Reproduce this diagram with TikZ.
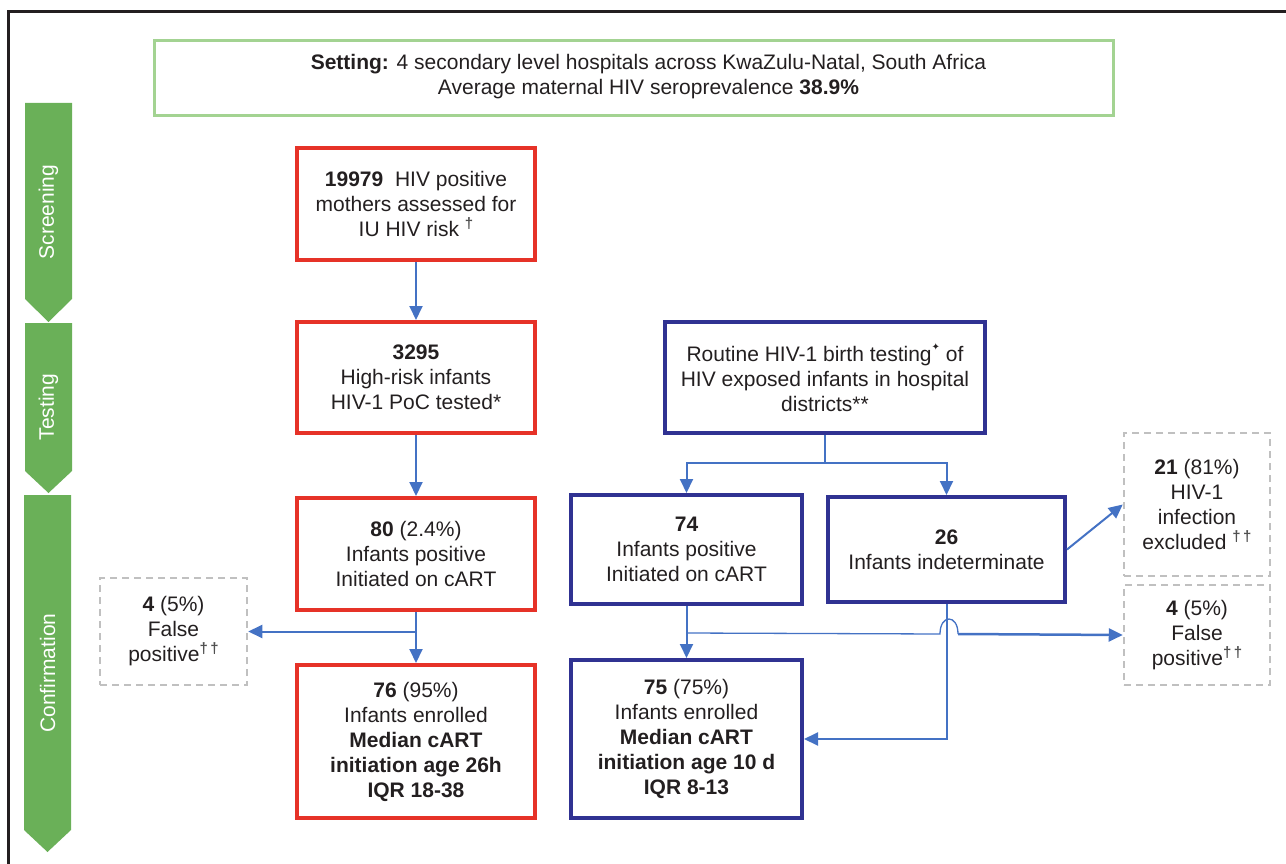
\documentclass[tikz,border=0pt]{standalone}
\usepackage{fontspec}
\setmainfont{Liberation Sans}
\newfontfamily\symf{DejaVu Sans}
\usetikzlibrary{arrows.meta}
\definecolor{chev}{RGB}{106,176,88}
\definecolor{setg}{RGB}{163,211,146}
\definecolor{redc}{RGB}{230,50,40}
\definecolor{navy}{RGB}{48,50,146}
\definecolor{bluec}{RGB}{68,114,196}
\definecolor{grayc}{RGB}{192,192,192}
\definecolor{txt}{RGB}{35,31,32}
\definecolor{dgc}{RGB}{80,80,80}
\newcommand\dg{\raisebox{0.4em}{\fontsize{15}{15}\selectfont\bfseries\color{dgc}†}}
\newcommand\dgsp{\raisebox{0.4em}{\fontsize{15}{15}\selectfont\bfseries\color{dgc}†\,†}}
\newcommand\starsym{\raisebox{0.5em}{\symf\fontsize{10}{10}\selectfont ✦}}
\begin{document}
\begin{tikzpicture}[x=1pt,y=-1pt,
  font=\fontsize{21}{25}\selectfont,
  box/.style={draw, line width=4pt, align=center, inner sep=0pt, text=txt},
  redbox/.style={box, draw=redc},
  bluebox/.style={box, draw=navy},
  graybox/.style={draw=grayc, dash pattern=on 7pt off 5pt, line width=2.5pt, align=center, inner sep=0pt, text=txt},
  conn/.style={draw=bluec, line width=2pt, -{Triangle[length=14pt,width=13pt]}},
  chevshape/.style={fill=chev, draw=none},
  chevtext/.style={rotate=90, text=white, font=\fontsize{21}{24}\selectfont}]
\useasboundingbox (0,0) rectangle (1286,864);
% frame
\draw[txt, line width=3pt] (8,864) -- (8,12) -- (1286,12);
% chevrons
\fill[chevshape] (25,103) -- (72,103) -- (72,299) -- (48.5,322) -- (25,299) -- cycle;
\fill[chevshape] (25,323) -- (72,323) -- (72,471) -- (48.5,493) -- (25,471) -- cycle;
\fill[chevshape] (24,495) -- (71,495) -- (71,830) -- (47.5,852) -- (24,830) -- cycle;
\node[chevtext] (cs) at (48.5,212) {Screening};
\node[chevtext] (ct) at (48.5,407) {Testing};
\node[chevtext] (cc) at (47.5,673) {Confirmation};
% setting
\draw[setg, line width=3pt] (154,41) rectangle (1113,116);
\node[align=center, inner sep=0pt, text=txt] (set) at (648.5,77)
  {\textbf{Setting:} 4 secondary level hospitals across KwaZulu-Natal, South Africa\\Average maternal HIV seroprevalence \textbf{38.9\%}};
% red column
\node[redbox, minimum width=238pt, minimum height=112pt] (n1) at (416,204)
  {\textbf{19979}\ \ HIV positive\\mothers assessed for\\IU HIV risk \dg};
\node[redbox, minimum width=238pt, minimum height=111pt] (n2) at (416,377.5)
  {\textbf{3295}\\High-risk infants\\HIV-1 PoC tested*};
\node[redbox, minimum width=238pt, minimum height=112pt] (n3) at (416,554)
  {\textbf{80} (2.4\%)\\Infants positive\\Initiated on cART};
\node[redbox, minimum width=238pt, minimum height=153pt] (n4) at (416,741.5)
  {\textbf{76} (95\%)\\Infants enrolled\\\textbf{Median cART}\\\textbf{initiation age 26h}\\\textbf{IQR 18-38}};
\node[graybox, minimum width=147pt, minimum height=107pt] (g1) at (173.5,631.5)
  {\textbf{4} (5\%)\\False\\positive\dgsp};
% blue column
\node[bluebox, minimum width=320pt, minimum height=111pt] (r) at (825,377.5)
  {Routine HIV-1 birth testing\starsym{} of\\HIV exposed infants in hospital\\districts**};
\node[bluebox, minimum width=231pt, minimum height=109pt] (b74) at (686.5,549.5)
  {\textbf{74}\\Infants positive\\Initiated on cART};
\node[bluebox, minimum width=237pt, minimum height=105pt] (b26) at (946.5,549.5)
  {\textbf{26}\\Infants indeterminate};
\node[bluebox, minimum width=231pt, minimum height=158pt] (b75) at (686.5,739)
  {\textbf{75} (75\%)\\Infants enrolled\\\textbf{Median cART}\\\textbf{initiation age 10 d}\\\textbf{IQR 8-13}};
\node[graybox, minimum width=146pt, minimum height=143pt] (g21) at (1197,504.5)
  {\textbf{21} (81\%)\\HIV-1\\infection\\excluded \dgsp};
\node[graybox, minimum width=146pt, minimum height=100pt] (g2) at (1197,635)
  {\textbf{4} (5\%)\\False\\positive\dgsp};
% connectors red
\draw[conn] (n1) -- (n2);
\draw[conn] (n2) -- (n3);
\draw[conn] (n3) -- (n4);
\coordinate (b1) at (416,631.5);
\draw[conn] (b1) -- (g1);
% connectors blue
\coordinate (split) at (825,463);
\draw[bluec, line width=2pt] (r.south) -- (split);
\draw[conn] (split) -| (b74.north);
\draw[conn] (split) -| (b26.north);
\draw[conn] (b74) -- (b75);
\coordinate (h0) at (686,633);
\coordinate (hA) at (940,634);
\coordinate (hB) at (958,634);
\draw[bluec, line width=1.3pt] (h0) -- (hA) .. controls (940,614) and (958,614) .. (hB);
\draw[conn, line width=2.5pt] (hB) -- (g2.west);
\draw[conn] (b26.south) |- (b75.east);
\draw[conn] (b26.east) -- (g21.west);
\end{tikzpicture}
\end{document}
